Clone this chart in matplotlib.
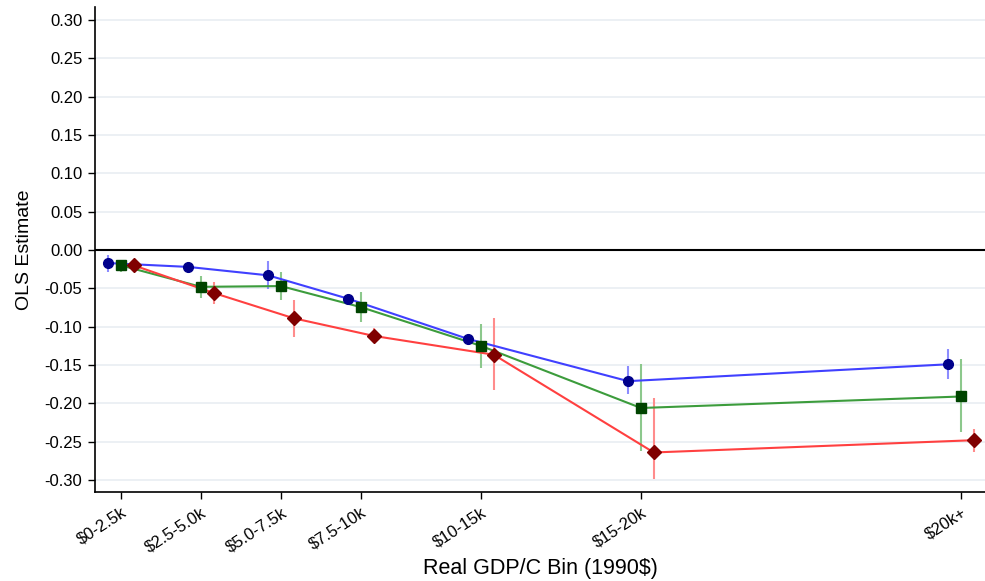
import matplotlib
matplotlib.use("Agg")
import matplotlib.pyplot as plt
import numpy as np

plt.rcParams['font.family'] = ['Liberation Sans', 'DejaVu Sans']

bins = ["$0-2.5k", "$2.5-5.0k", "$5.0-7.5k", "$7.5-10k", "$10-15k", "$15-20k", "$20k+"]
bin_mid = [1.25, 3.75, 6.25, 8.75, 12.5, 17.5, 27.5]

blue_est = [-0.017, -0.022, -0.033, -0.0635, -0.116, -0.171, -0.149]
blue_lo = [-0.029, -0.025, -0.051, -0.066, -0.119, -0.188, -0.168]
blue_hi = [-0.007, -0.019, -0.014, -0.061, -0.113, -0.151, -0.129]

green_est = [-0.020, -0.048, -0.047, -0.0745, -0.125, -0.206, -0.191]
green_lo = [-0.029, -0.063, -0.065, -0.094, -0.154, -0.262, -0.237]
green_hi = [-0.013, -0.034, -0.029, -0.055, -0.097, -0.149, -0.142]

red_est = [-0.020, -0.056, -0.089, -0.112, -0.1365, -0.264, -0.248]
red_lo = [-0.027, -0.070, -0.113, -0.121, -0.183, -0.299, -0.263]
red_hi = [-0.013, -0.042, -0.065, -0.102, -0.089, -0.193, -0.233]

yticks = [0.30, 0.25, 0.20, 0.15, 0.10, 0.05, 0.00, -0.05, -0.10, -0.15, -0.20, -0.25, -0.30]

fig = plt.figure(figsize=(9.85, 5.81), dpi=100)
ax = fig.add_axes([0.0964, 0.153, 0.9036, 0.835])

series = [
    (blue_est, blue_lo, blue_hi, -0.4, '#4040ff', '#8c8cff', '#00008b', 'o', 7),
    (green_est, green_lo, green_hi, 0.0, '#3c9c3c', '#8cc88c', '#004400', 's', 7),
    (red_est, red_lo, red_hi, 0.4, '#ff4040', '#ff8c8c', '#800000', 'D', 7.5),
]

for est, lo, hi, off, lc, ec, mc, mk, ms in series:
    x = np.array(bin_mid) + off
    ax.vlines(x, lo, hi, colors=ec, linewidth=1.5, zorder=2)
    ax.plot(x, est, color=lc, linewidth=1.5, zorder=3)
    ax.plot(x, est, linestyle='none', marker=mk, markersize=ms, color=mc,
            markeredgecolor=mc, zorder=4)

ax.axhline(0, color='black', linewidth=1.5, zorder=2.5)
for t in yticks:
    if t != 0:
        ax.axhline(t, color='#e9eef2', linewidth=1.2, zorder=0)

ax.set_xlim(0.4375, 28.25)
ax.set_ylim(-0.3157, 0.317)
ax.set_yticks(yticks)
ax.set_yticklabels([f"{t:.2f}" for t in yticks], fontsize=12)
ax.set_xticks(bin_mid)
ax.set_xticklabels(bins, rotation=33, ha='right', rotation_mode='anchor', fontsize=12)

for s in ['top', 'right']:
    ax.spines[s].set_visible(False)
for s in ['left', 'bottom']:
    ax.spines[s].set_linewidth(1.2)
ax.tick_params(axis='both', direction='out', length=5, width=1.0)
ax.tick_params(axis='y', pad=4)
ax.tick_params(axis='x', pad=4)

ax.set_ylabel("OLS Estimate", fontsize=14, labelpad=8)
ax.set_xlabel("Real GDP/C Bin (1990$)", fontsize=15.5)
ax.xaxis.set_label_coords(0.5, -0.136)

fig.savefig("out.png", dpi=100)
